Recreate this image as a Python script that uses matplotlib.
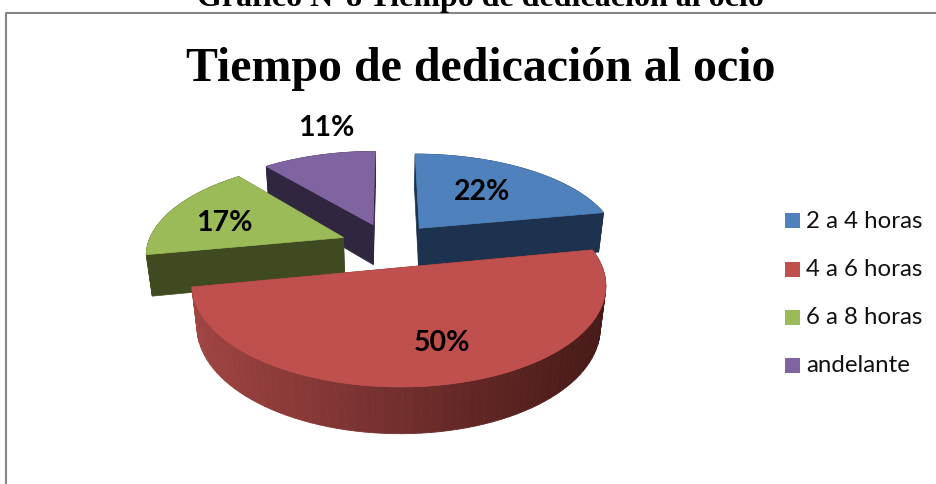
import numpy as np
import matplotlib
matplotlib.use('Agg')
import matplotlib.pyplot as plt
from matplotlib.colors import to_rgb
from matplotlib.patches import Polygon, Rectangle

categories = ['2 a 4 horas', '4 a 6 horas', '6 a 8 horas', 'andelante']
values = [22, 50, 17, 11]
colors = ['#4F81BD', '#C0504D', '#9BBB59', '#8064A2']
cut_colors = ['#1D324E', '#6A2A28', '#404A20', '#30263F']
rim_left = ['#2A4669', '#A04542', '#55652C', '#453658']
rim_right = ['#1D324E', '#471A18', '#404A20', '#30263F']

caption = 'Gráfico N°8 Tiempo de dedicación al ocio'
title = 'Tiempo de dedicación al ocio'

# projection of the pie plane onto the picture (pixels)
cx, cy = 389, 245
A, B, C = 200, 91.3, 42
k, m = 0.163, 0.025
explode = 0.245
width_scale = [1.0, 0.98, 0.98, 0.99]


def project(u, v, h=0.0):
    w = 1 + k * v + m * h
    return cx + A * u / w, cy + (C * h - B * v) / w


fig = plt.figure(figsize=(9.36, 4.84), dpi=100)
ax = fig.add_axes([0, 0, 1, 1])
ax.set_xlim(0, 936)
ax.set_ylim(484, 0)
ax.axis('off')

# frame of the embedded chart
ax.plot([5.5, 5.5, 936], [484, 12.5, 12.5], color='#868686', lw=1.5, solid_capstyle='butt')

ax.text(480, 6, caption, family='Liberation Serif', weight='bold', fontsize=23,
        ha='center', va='baseline', color='black')
ax.text(481, 81, title, family='Liberation Serif', weight='bold', fontsize=34.5,
        ha='center', va='baseline', color='black')

# slice angles run clockwise from 12 o'clock
shares = np.array(values) / sum(values) * 2 * np.pi
ends = np.pi / 2 - np.cumsum(shares)
starts = ends + shares


def draw_slice(i, zorder):
    t = np.linspace(starts[i], ends[i], 80)
    mid = (starts[i] + ends[i]) / 2
    ou, ov = explode * np.cos(mid), explode * np.sin(mid)
    sc = width_scale[i]

    for a in (starts[i], ends[i]):
        u, v = ou + sc * np.cos(a), ov + np.sin(a)
        ax.add_patch(Polygon([project(ou, ov), project(u, v), project(u, v, 1), project(ou, ov, 1)],
                             fc=cut_colors[i], ec=cut_colors[i], lw=0.5, zorder=zorder))

    # outer rim, shaded left to right. Only the front slice shows it over the cuts
    rim_z = zorder + 0.2 if np.sin(mid) < -0.5 else zorder - 0.2
    left, right = np.array(to_rgb(rim_left[i])), np.array(to_rgb(rim_right[i]))
    xs = [project(ou + sc * np.cos(a), ov + np.sin(a))[0] for a in t]
    for j in range(len(t) - 1):
        u0, v0 = ou + sc * np.cos(t[j]), ov + np.sin(t[j])
        u1, v1 = ou + sc * np.cos(t[j + 1]), ov + np.sin(t[j + 1])
        f = (xs[j] - min(xs)) / max(max(xs) - min(xs), 1)
        col = left + (right - left) * f
        ax.add_patch(Polygon([project(u0, v0), project(u1, v1), project(u1, v1, 1), project(u0, v0, 1)],
                             fc=col, ec=col, lw=0.6, zorder=rim_z))

    # top face
    top = [project(ou, ov)] + [project(ou + sc * np.cos(a), ov + np.sin(a)) for a in t]
    ax.add_patch(Polygon(top, fc=colors[i], ec=colors[i], lw=0.5, zorder=zorder + 0.5))


# back slices first, the big front one last
for zorder, i in enumerate([3, 2, 0, 1]):
    draw_slice(i, zorder + 2)

label_xy = [(482, 192.5), (442, 343), (224, 223), (326, 128)]
for v, (x, y) in zip(values, label_xy):
    ax.text(x, y, f'{v}%', family='Lato', weight='bold', fontsize=20.5,
            ha='center', va='center', color='black', zorder=10)

legend_y = [220, 269, 317, 365]
for name, col, y in zip(categories, colors, legend_y):
    ax.add_patch(Rectangle((785, y - 7.5), 15, 15, fc=col, ec='none', zorder=10))
    ax.text(806, y + 1, name, family='Lato', fontsize=17.3, ha='left', va='center',
            color='#111111', zorder=10)

fig.savefig('out.png', dpi=100)
